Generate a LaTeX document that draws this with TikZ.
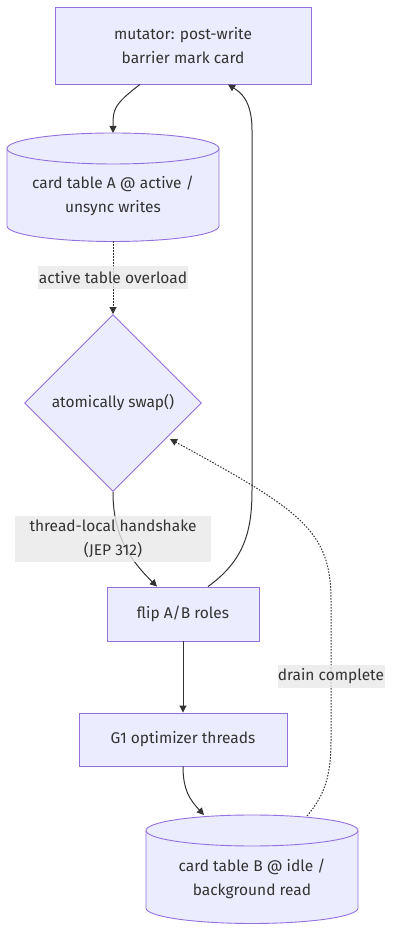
\documentclass[tikz,border=0pt]{standalone}
\usepackage{fontspec}
\setmainfont{Fira Sans}
\usetikzlibrary{arrows.meta,shapes.geometric}
\definecolor{nfill}{HTML}{ECECFF}
\definecolor{nline}{HTML}{9370DB}
\definecolor{txt}{HTML}{333333}
\definecolor{lbg}{HTML}{E8E8E8}
\tikzset{
  every node/.style={text=txt, font=\fontsize{15.5pt}{24pt}\selectfont},
  procbox/.style={draw=nline, fill=nfill, line width=0.9pt, align=center, inner sep=0pt},
  decbox/.style={diamond, aspect=1, draw=nline, fill=nfill, line width=0.9pt, align=center, inner sep=0pt, minimum width=177pt, minimum height=177pt},
  cyltxt/.style={align=center, inner sep=0pt},
  cylshape/.style={draw=nline, fill=nfill, line width=0.9pt},
  elabel/.style={fill=lbg, fill opacity=0.8, text opacity=1, align=center, inner sep=0pt},
  flow/.style={draw=txt, line width=1pt, -{Triangle[length=7pt,width=7pt]}},
  dflow/.style={flow, dash pattern=on 1.5pt off 1.5pt},
}
\begin{document}
\begin{tikzpicture}[x=1pt,y=1pt]
\useasboundingbox (0,0) rectangle (401,950);
% cylinders
\draw[cylshape] (7,801.5) -- (7,724) arc(180:360:106 and 15.5) -- (219,801.5) arc(0:180:106 and 15.5) -- cycle;
\draw[cylshape, fill=none] (7,801.5) arc(180:360:106 and 15.5);
\draw[cylshape] (146,119.5) -- (146,42) arc(180:360:106 and 15.5) -- (358,119.5) arc(0:180:106 and 15.5) -- cycle;
\draw[cylshape, fill=none] (146,119.5) arc(180:360:106 and 15.5);

\node[procbox, minimum width=256pt, minimum height=77pt] (mut) at (183,904.5) {mutator: post-write\\barrier mark card};
\node[cyltxt] (cta) at (113,754) {card table A @ active /\\unsync writes};
\coordinate (ctatop) at (113,817);
\coordinate (ctabot) at (113,708.5);
\node[decbox] (dia) at (113,547) {};
\node[inner sep=0pt] (diatxt) at (113,547) {atomically swap()};
\node[procbox, minimum width=152pt, minimum height=54pt] (flip) at (183,336) {flip A/B roles};
\node[procbox, minimum width=208pt, minimum height=53pt] (g1) at (183,210.5) {G1 optimizer threads};
\node[cyltxt] (ctb) at (252,71.5) {card table B @ idle /\\background read};
\coordinate (ctbtopl) at (204,135);
\coordinate (ctbtopr) at (307,134);

% edges
\draw[flow] ([xshift=-43pt]mut.south) .. controls (113,845) and (113,840) .. (ctatop);
\draw[dflow] (ctabot) -- (dia.north);
\draw[flow] (dia.south) .. controls (113,420) and (125,395) .. ([xshift=-26pt]flip.north);
\draw[flow] ([xshift=25pt]flip.north) .. controls (245,390) and (252,420) .. (252,460) -- (252,820) .. controls (252,850) and (240,858) .. ([xshift=45pt]mut.south);
\draw[flow] (flip.south) -- (g1.north);
\draw[flow] (g1.south) .. controls (183,160) and (190,150) .. (ctbtopl);
\draw[dflow] (ctbtopr) .. controls (325,155) and (331,175) .. (331,210) -- (331,350) .. controls (331,420) and (300,440) .. (170,511);

% labels
\node[elabel, minimum width=150pt, minimum height=23pt] (l1) at (113,672.5) {active table overload};
\node[elabel, minimum width=196pt, minimum height=46pt] (l2) at (113,411) {thread-local handshake\\(JEP 312)};
\node[elabel, minimum width=107pt, minimum height=23pt] (l3) at (331,273.5) {drain complete};
\end{tikzpicture}
\end{document}
